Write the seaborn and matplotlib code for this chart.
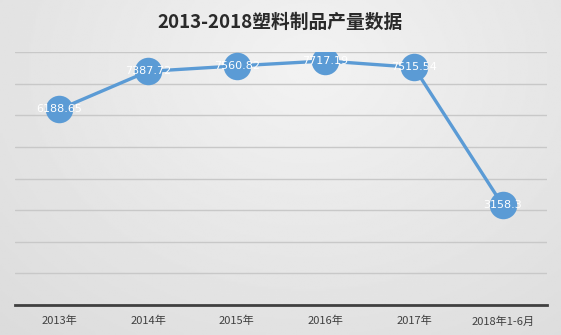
import numpy as np
import pandas as pd
import matplotlib
matplotlib.use("Agg")
import matplotlib.pyplot as plt
import seaborn as sns

categories = ["2013年", "2014年", "2015年", "2016年", "2017年", "2018年1-6月"]
values = [6188.65, 7387.72, 7560.82, 7717.19, 7515.54, 3158.3]
labels = ["6188.65", "7387.72", "7560.82", "7717.19", "7515.54", "3158.3"]
title = "2013-2018塑料制品产量数据"

sns.set_theme(style="white")
plt.rcParams['font.family'] = ['Noto Sans CJK SC', 'DejaVu Sans']

W, H = 561, 335
fig = plt.figure(figsize=(W / 100, H / 100), dpi=100)

# background gradient
bg = fig.add_axes([0, 0, 1, 1], zorder=-10)
yy, xx = np.mgrid[0:1:200j, 0:1:300j]
r = np.sqrt(((xx - 0.55) / 0.9) ** 2 + ((yy - 0.8) / 1.2) ** 2)
img = 0.95 - 0.10 * np.clip(r, 0, 1)
bg.imshow(img, cmap="gray", vmin=0, vmax=1, aspect="auto", extent=[0, 1, 0, 1], origin="lower")
bg.axis("off")

ax = fig.add_axes([15 / W, 1 - 305 / H, (547 - 15) / W, (305 - 52) / H])
ax.set_facecolor("none")

df = pd.DataFrame({"cat": categories, "val": values})
blue = "#5b9bd5"
sns.pointplot(data=df, x="cat", y="val", color=blue, markers="o", markersize=18,
              linewidth=2.4, ax=ax, zorder=3)

for i, (v, lab) in enumerate(zip(values, labels)):
    ax.text(i, v, lab, color="white", ha="center", va="center", fontsize=8, zorder=5,
            family=['DejaVu Sans'])

ax.set_ylim(0, 8000)
ax.set_xlim(-0.5, 5.5)
ax.set_yticks(np.arange(0, 8001, 1000))
ax.yaxis.grid(True, color="#c8c8c8", linewidth=1.0)
ax.set_axisbelow(True)
ax.tick_params(axis="y", left=False, labelleft=False)
ax.tick_params(axis="x", bottom=False, labelsize=8, labelcolor="#404040", pad=2)
ax.set_xlabel("")
ax.set_ylabel("")
for s in ["top", "right", "left"]:
    ax.spines[s].set_visible(False)
ax.spines["bottom"].set_color("#404040")
ax.spines["bottom"].set_linewidth(2)

fig.text(280 / W, 1 - 22 / H, title, ha="center", va="center", fontsize=13.5,
         fontweight="bold", color="#2a2a2a")

fig.savefig("out.png", dpi=100)
